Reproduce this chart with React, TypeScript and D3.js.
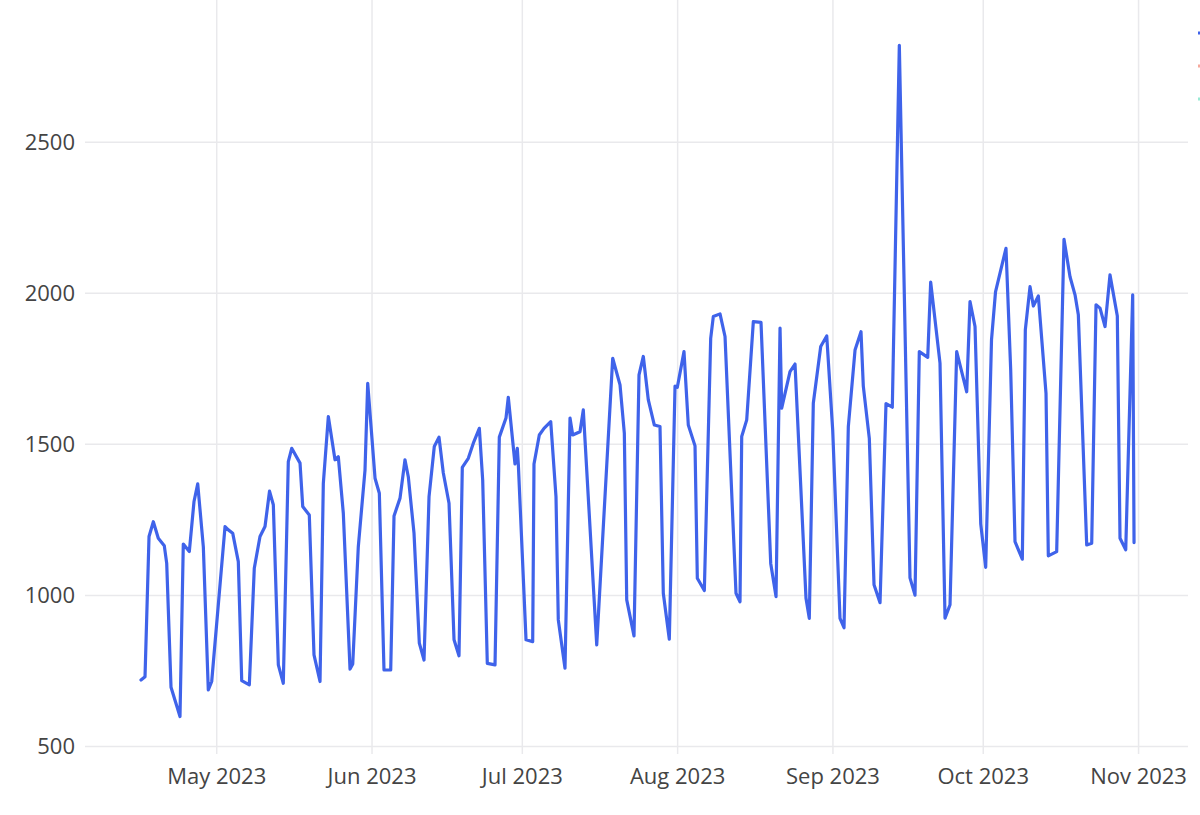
import React from "react";
import * as d3 from "d3";

const daysSinceMay1 = [
  -15.11, -14.31, -13.51, -12.65, -11.66, -10.46, -9.98, -9.12, -7.33, -6.67,
  -5.47, -4.53, -3.79, -2.67, -1.68, -1.0, 1.66, 2.32, 3.19, 4.31,
  4.99, 6.51, 7.5, 8.64, 9.64, 10.54, 11.3, 12.3, 13.29, 14.29,
  14.97, 16.63, 17.17, 18.48, 19.42, 20.62, 21.28, 22.28, 23.61, 24.27,
  25.27, 26.61, 27.15, 28.26, 29.6, 30.14, 31.6, 32.46, 33.39, 34.73,
  35.39, 36.59, 37.58, 38.24, 39.38, 40.44, 41.38, 42.38, 43.43, 44.37,
  45.23, 46.37, 47.37, 48.36, 49.02, 50.22, 51.22, 52.42, 53.09, 54.01,
  55.55, 56.41, 57.74, 58.2, 59.54, 60.0, 60.2, 61.74, 63.07, 63.33,
  64.39, 65.33, 66.67, 67.72, 68.18, 69.52, 70.52, 71.06, 72.51, 73.17,
  75.85, 79.04, 80.5, 81.36, 81.84, 83.29, 84.29, 85.15, 86.15, 87.35,
  88.48, 89.14, 90.34, 91.48, 91.94, 93.27, 94.13, 95.47, 95.93, 97.33,
  98.6, 99.12, 100.46, 101.46, 103.65, 104.45, 104.79, 105.79, 107.11, 108.64,
  110.58, 111.64, 112.44, 112.77, 114.43, 115.43, 117.62, 118.28, 119.08, 120.56,
  121.76, 122.95, 124.41, 125.21, 126.07, 127.41, 128.6, 129.06, 130.26, 131.2,
  132.4, 133.59, 134.85, 136.25, 138.38, 139.38, 140.24, 141.92, 142.51, 144.37,
  145.37, 146.37, 147.7, 149.7, 150.36, 151.36, 152.5, 153.49, 154.65, 155.45,
  157.54, 158.48, 159.34, 160.8, 161.4, 162.34, 163.0, 164.0, 165.53, 165.99,
  167.66, 169.12, 170.32, 171.32, 171.98, 173.65, 174.65, 175.51, 176.31, 177.31,
  178.3, 179.76, 180.3, 181.44, 182.83, 183.1,
];

const values = [
  720, 731, 1195, 1244, 1189, 1164, 1106, 696, 599, 1170,
  1145, 1311, 1369, 1161, 687, 715, 1228, 1217, 1206, 1112,
  718, 704, 1090, 1195, 1228, 1345, 1300, 770, 709, 1443,
  1487, 1438, 1294, 1266, 803, 715, 1371, 1592, 1449, 1459,
  1272, 756, 773, 1161, 1415, 1702, 1388, 1338, 753, 753,
  1263, 1322, 1449, 1393, 1206, 842, 786, 1327, 1493, 1524,
  1405, 1305, 853, 800, 1424, 1454, 1504, 1553, 1382, 775,
  770, 1524, 1587, 1656, 1435, 1487, 1435, 853, 847, 1435,
  1531, 1553, 1575, 1327, 919, 759, 1587, 1531, 1542, 1614,
  836, 1785, 1697, 1537, 985, 866, 1730, 1791, 1647, 1564,
  1559, 1007, 855, 1693, 1689, 1807, 1564, 1495, 1057, 1016,
  1851, 1923, 1932, 1857, 1007, 979, 1526, 1581, 1906, 1904,
  1106, 996, 1885, 1620, 1741, 1766, 991, 924, 1636, 1824,
  1859, 1548, 924, 893, 1559, 1812, 1873, 1693, 1520, 1035,
  976, 1635, 1623, 2821, 1058, 1001, 1807, 1788, 2037, 1769,
  925, 969, 1807, 1674, 1973, 1890, 1237, 1093, 1846, 2005,
  2149, 1746, 1178, 1120, 1879, 2022, 1958, 1991, 1669, 1131,
  1145, 2179, 2055, 1995, 1929, 1167, 1173, 1962, 1951, 1890,
  2061, 1925, 1189, 1151, 1995, 1175,
];

const yTicks = [500, 1000, 1500, 2000, 2500];
const monthTicks = ["2023-05-01", "2023-06-01", "2023-07-01", "2023-08-01", "2023-09-01", "2023-10-01", "2023-11-01"];
const legendColors = ["#3f63ea", "#ef553b", "#00cc96"];
const legendOpacity = [1, 0.5, 0.4];

const W = 1200;
const H = 815;
const plot = { left: 85, right: 1188, top: 0, bottom: 754 };
const BASE = Date.UTC(2023, 4, 1);
const DAY = 86400000;

export default function App() {
  const x = d3
    .scaleUtc()
    .domain([new Date(BASE - 26.29 * DAY), new Date(BASE + 193.87 * DAY)])
    .range([plot.left, plot.right]);
  const y = d3.scaleLinear().domain([475, 2971]).range([plot.bottom, plot.top]);

  const data = daysSinceMay1.map((d, i) => ({ t: new Date(BASE + d * DAY), v: values[i] }));
  const line = d3
    .line<{ t: Date; v: number }>()
    .x((d) => x(d.t))
    .y((d) => y(d.v));

  const fmt = d3.utcFormat("%b %Y");
  const font = "'Open Sans', 'DejaVu Sans', sans-serif";

  return (
    <div style={{ position: "absolute", left: 0, top: 0, width: W, height: H, background: "#fff" }}>
      <svg width={W} height={H} style={{ display: "block" }}>
        <rect x={0} y={0} width={W} height={H} fill="#fff" />
        {monthTicks.map((m) => {
          const d = new Date(m + "T00:00:00Z");
          return (
            <line key={"vg" + m} x1={x(d)} x2={x(d)} y1={plot.top} y2={plot.bottom} stroke="#e9e9ec" strokeWidth={1.5} />
          );
        })}
        {yTicks.map((t) => (
          <line key={"hg" + t} x1={plot.left} x2={plot.right} y1={y(t)} y2={y(t)} stroke="#e9e9ec" strokeWidth={1.5} />
        ))}
        {yTicks.map((t) => (
          <text key={"yl" + t} x={75} y={y(t)} dy="0.36em" textAnchor="end" fontFamily={font} fontSize={22} fill="#444">
            {t}
          </text>
        ))}
        {monthTicks.map((m) => {
          const d = new Date(m + "T00:00:00Z");
          return (
            <text key={"xl" + m} x={x(d)} y={784} textAnchor="middle" fontFamily={font} fontSize={22} fill="#444">
              {fmt(d)}
            </text>
          );
        })}
        <path d={line(data) || ""} fill="none" stroke="#3f63ea" strokeWidth={3.2} strokeLinejoin="round" strokeLinecap="round" />
        {legendColors.map((c, i) => (
          <line key={"lg" + i} x1={1198} x2={1240} y1={33 + i * 33} y2={33 + i * 33} stroke={c} strokeWidth={3} opacity={legendOpacity[i]} />
        ))}
      </svg>
    </div>
  );
}
